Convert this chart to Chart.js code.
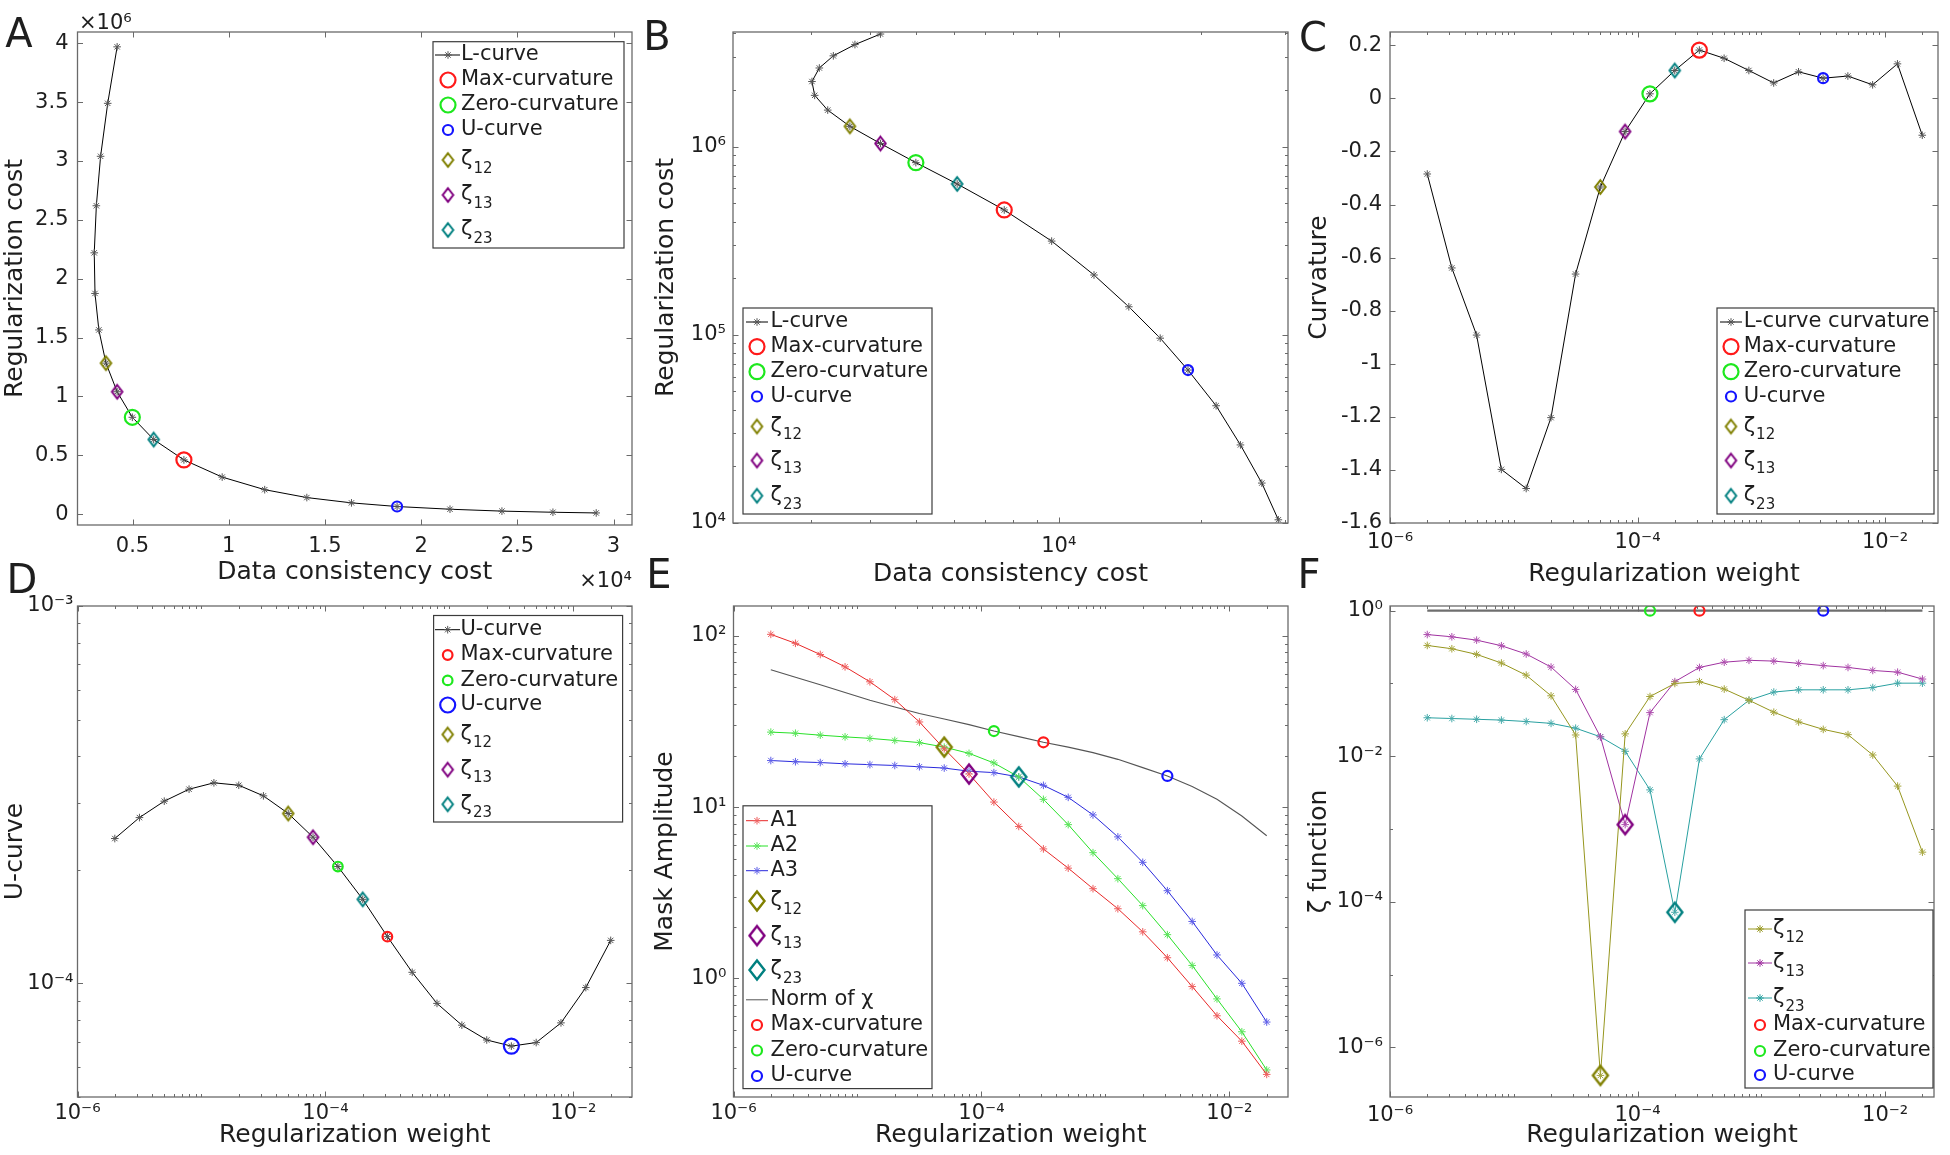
<!DOCTYPE html>
<html><head><meta charset="utf-8">
<script src="https://cdn.jsdelivr.net/npm/chart.js@4/dist/chart.umd.min.js"></script>
<style>
body{margin:0;background:#fff;width:1950px;height:1155px;position:relative;overflow:hidden}
canvas{position:absolute}
</style></head><body>
<script>
// ---------------- DATA ----------------
const regWeight = [2.0e-6, 3.16e-6, 5.01e-6, 7.94e-6, 1.26e-5, 2.0e-5, 3.16e-5, 5.01e-5, 7.94e-5, 1.26e-4, 2.0e-4, 3.16e-4, 5.01e-4, 7.94e-4, 1.26e-3, 2.0e-3, 3.16e-3, 5.01e-3, 7.94e-3, 1.26e-2, 2.0e-2];
const dataConsistencyCost = [4200, 3710, 3340, 3120, 3010, 3050, 3250, 3620, 4200, 4990, 6100, 7670, 9660, 11870, 14060, 16380, 18750, 21500, 24200, 26850, 29100];
const regularizationCost = [3.97e6, 3.49e6, 3.04e6, 2.62e6, 2.22e6, 1.875e6, 1.565e6, 1.283e6, 1.04e6, 8.23e5, 6.34e5, 4.61e5, 3.15e5, 2.08e5, 1.41e5, 9.6e4, 6.5e4, 4.2e4, 2.6e4, 1.63e4, 1.04e4];
const curvature = [-0.285, -0.639, -0.892, -1.398, -1.470, -1.203, -0.662, -0.334, -0.125, 0.017, 0.105, 0.182, 0.151, 0.105, 0.058, 0.100, 0.076, 0.084, 0.051, 0.130, -0.139];
const uCurve = [2.42e-4, 2.75e-4, 3.04e-4, 3.27e-4, 3.40e-4, 3.35e-4, 3.14e-4, 2.82e-4, 2.44e-4, 2.04e-4, 1.67e-4, 1.33e-4, 1.07e-4, 8.85e-5, 7.75e-5, 7.08e-5, 6.82e-5, 6.97e-5, 7.86e-5, 9.75e-5, 1.30e-4];
const maskA1 = [102, 90.4, 77.8, 65.9, 53.9, 42.4, 31.4, 21.9, 15.6, 10.7, 7.71, 5.70, 4.40, 3.34, 2.55, 1.87, 1.32, 0.896, 0.605, 0.430, 0.275];
const maskA2 = [27.4, 27.0, 26.3, 25.7, 25.2, 24.5, 23.8, 22.4, 20.6, 18.1, 15.0, 11.1, 7.90, 5.42, 3.82, 2.66, 1.80, 1.19, 0.759, 0.488, 0.292];
const maskA3 = [18.7, 18.4, 18.2, 17.9, 17.7, 17.5, 17.2, 16.9, 16.2, 15.9, 15.0, 13.4, 11.4, 9.0, 6.70, 4.76, 3.25, 2.15, 1.37, 0.936, 0.556];
const chiNorm = [63.4, 57.3, 51.8, 46.7, 42.0, 38.4, 35.2, 32.7, 30.3, 27.8, 25.8, 23.9, 22.4, 20.8, 19.0, 17.0, 15.2, 13.2, 11.1, 8.87, 6.80];
const zeta12 = [0.333, 0.300, 0.251, 0.191, 0.130, 0.0677, 0.0196, 4.12e-7, 0.0203, 0.0662, 0.100, 0.106, 0.0838, 0.0588, 0.0403, 0.0296, 0.0234, 0.0198, 0.0104, 0.00389, 4.81e-4];
const zeta13 = [0.470, 0.438, 0.394, 0.330, 0.254, 0.168, 0.0828, 0.0185, 0.00115, 0.0398, 0.106, 0.166, 0.196, 0.208, 0.203, 0.189, 0.176, 0.166, 0.151, 0.143, 0.115];
const zeta23 = [0.0338, 0.0330, 0.0322, 0.0314, 0.0300, 0.0283, 0.0243, 0.0185, 0.0117, 0.00345, 7.18e-5, 0.0092, 0.0318, 0.0588, 0.0762, 0.0818, 0.0818, 0.0818, 0.0879, 0.101, 0.101];
const zetaReference = [1, 1, 1, 1, 1, 1, 1, 1, 1, 1, 1, 1, 1, 1, 1, 1, 1, 1, 1, 1, 1];
// indices of the selected weights
const idxZeta12 = 7, idxZeta13 = 8, idxZeroCurv = 9, idxZeta23 = 10, idxMaxCurv = 11, idxUCurve = 16;

// tick values / labels
const aXTicks = [5000, 10000, 15000, 20000, 25000, 30000];
const aXLabels = ['0.5', '1', '1.5', '2', '2.5', '3'];
const aYTicks = [0, 5e5, 1e6, 1.5e6, 2e6, 2.5e6, 3e6, 3.5e6, 4e6];
const aYLabels = ['0', '0.5', '1', '1.5', '2', '2.5', '3', '3.5', '4'];
const bXTicks = [1e4];
const bXLabels = ['10⁴'];
const bYTicks = [1e4, 1e5, 1e6];
const bYLabels = ['10⁴', '10⁵', '10⁶'];
const cYTicks = [-1.6, -1.4, -1.2, -1, -0.8, -0.6, -0.4, -0.2, 0, 0.2];
const cYLabels = ['-1.6', '-1.4', '-1.2', '-1', '-0.8', '-0.6', '-0.4', '-0.2', '0', '0.2'];
const wTicks = [1e-6, 1e-4, 1e-2];
const wLabels = ['10⁻⁶', '10⁻⁴', '10⁻²'];
const dYTicks = [1e-4, 1e-3];
const dYLabels = ['10⁻⁴', '10⁻³'];
const eYTicks = [1, 10, 100];
const eYLabels = ['10⁰', '10¹', '10²'];
const fYTicks = [1e-6, 1e-4, 1e-2, 1];
const fYLabels = ['10⁻⁶', '10⁻⁴', '10⁻²', '10⁰'];

// ---------------- STYLE ----------------
const FONT = "'DejaVu Sans', sans-serif";
const TXT = '#1e1e1e';
const FRAME = '#6a6a6a';
const RED = '#ff1a1a', GREEN = '#1ee81e', BLUE = '#1414ff';
const OLIVE = '#808000', PURPLE = '#800080', TEAL = '#008080';
const STAR_R = 3.8;

function diamondImg(w, h, color, lw) {
  const c = document.createElement('canvas');
  const W = Math.ceil(w + lw * 2 + 2), H = Math.ceil(h + lw * 2 + 2);
  c.width = W; c.height = H;
  const g = c.getContext('2d');
  g.strokeStyle = color; g.lineWidth = lw;
  g.beginPath();
  g.moveTo(W / 2, H / 2 - h / 2); g.lineTo(W / 2 + w / 2, H / 2);
  g.lineTo(W / 2, H / 2 + h / 2); g.lineTo(W / 2 - w / 2, H / 2);
  g.closePath(); g.stroke();
  return c;
}
const smallDia = { olive: diamondImg(10.5, 13.5, OLIVE, 2), purple: diamondImg(10.5, 13.5, PURPLE, 2), teal: diamondImg(10.5, 13.5, TEAL, 2) };
const bigDia = { olive: diamondImg(15, 19, OLIVE, 2.4), purple: diamondImg(15, 19, PURPLE, 2.4), teal: diamondImg(15, 19, TEAL, 2.4) };

function pts(xs, ys) { return xs.map((x, i) => ({ x: x, y: ys[i] })); }
function one(xs, ys, i) { return [{ x: xs[i], y: ys[i] }]; }

function lineDS(label, data, color, starColor, width) {
  return { label, data, showLine: true, borderColor: color, borderWidth: width || 1, tension: 0,
    pointStyle: 'star', pointRadius: STAR_R, pointBorderColor: starColor || color, pointBorderWidth: 1,
    pointBackgroundColor: 'transparent', order: 10 };
}
function plainLineDS(label, data, color, width) {
  return { label, data, showLine: true, borderColor: color, borderWidth: width, tension: 0, pointRadius: 0, order: 11 };
}
function circleDS(label, data, color, r) {
  return { label, data, showLine: false, pointStyle: 'circle', pointRadius: r, pointBorderWidth: 2.2,
    pointBorderColor: color, pointBackgroundColor: 'transparent', order: 1 };
}
function diaDS(label, data, img) {
  return { label, data, showLine: false, pointStyle: img, pointRadius: 8, order: 1 };
}

function drawStar(ctx, x, y, r, color, lw) {
  ctx.strokeStyle = color; ctx.lineWidth = lw; ctx.beginPath();
  for (let k = 0; k < 4; k++) {
    const a = k * Math.PI / 4;
    ctx.moveTo(x - r * Math.cos(a), y - r * Math.sin(a));
    ctx.lineTo(x + r * Math.cos(a), y + r * Math.sin(a));
  }
  ctx.stroke();
}

function logMinor(min, max, sparse) {
  const out = [];
  for (let d = Math.floor(Math.log10(min)); d <= Math.ceil(Math.log10(max)); d++) {
    for (let m = 1; m < 10; m++) {
      if (sparse && m > 1) continue;
      const v = m * Math.pow(10, d);
      if (v >= min * 0.9999 && v <= max * 1.0001) out.push(v);
    }
  }
  return out;
}

function drawLabel(ctx, text, x, y, size) {
  // "ζ_12" -> ζ with subscript 12
  const parts = text.split('_');
  ctx.font = size + 'px ' + FONT;
  ctx.textAlign = 'left'; ctx.textBaseline = 'middle'; ctx.fillStyle = TXT;
  ctx.fillText(parts[0], x, y);
  if (parts.length > 1) {
    const w = ctx.measureText(parts[0]).width;
    ctx.font = Math.round(size * 0.72) + 'px ' + FONT;
    ctx.fillText(parts[1], x + w + 1, y + 9);
  }
}

function framePlugin(p) {
  return {
    id: 'matlabFrame' + p.name,
    afterDraw(chart) {
      const ctx = chart.ctx, a = chart.chartArea, xs = chart.scales.x, ys = chart.scales.y;
      const ox = p.canvas[0], oy = p.canvas[1];
      ctx.save();
      ctx.strokeStyle = FRAME; ctx.lineWidth = 1;
      const maj = 5.5, mnr = 3;
      function tx(v, len) {
        const px = Math.round(xs.getPixelForValue(v)) + 0.5;
        ctx.beginPath(); ctx.moveTo(px, a.bottom); ctx.lineTo(px, a.bottom - len);
        ctx.moveTo(px, a.top); ctx.lineTo(px, a.top + len); ctx.stroke();
      }
      function ty(v, len) {
        const py = Math.round(ys.getPixelForValue(v)) + 0.5;
        ctx.beginPath(); ctx.moveTo(a.left, py); ctx.lineTo(a.left + len, py);
        ctx.moveTo(a.right, py); ctx.lineTo(a.right - len, py); ctx.stroke();
      }
      if (p.x.type === 'logarithmic') logMinor(p.x.min, p.x.max, p.x.sparse).forEach(v => tx(v, mnr));
      if (p.y.type === 'logarithmic') logMinor(p.y.min, p.y.max, p.y.sparse).forEach(v => ty(v, mnr));
      p.x.ticks.forEach(v => tx(v, maj));
      p.y.ticks.forEach(v => ty(v, maj));
      ctx.lineWidth = 1.3;
      ctx.strokeRect(a.left, a.top, a.right - a.left, a.bottom - a.top);

      // legend
      const L = p.legend;
      if (L) {
        const [bx1, by1, bx2, by2] = L.box;
        ctx.fillStyle = '#fff';
        ctx.fillRect(bx1 - ox, by1 - oy, bx2 - bx1, by2 - by1);
        ctx.strokeStyle = '#3c3c3c'; ctx.lineWidth = 1.2;
        ctx.strokeRect(bx1 - ox, by1 - oy, bx2 - bx1, by2 - by1);
        L.rows.forEach(r => {
          const y = r.y - oy, mx = L.markerX - ox;
          if (r.kind === 'linestar' || r.kind === 'line') {
            ctx.strokeStyle = r.color; ctx.lineWidth = 1;
            ctx.beginPath(); ctx.moveTo(L.lineX[0] - ox, y); ctx.lineTo(L.lineX[1] - ox, y); ctx.stroke();
            if (r.kind === 'linestar') drawStar(ctx, mx, y, STAR_R, r.star || r.color, 1);
          } else if (r.kind === 'circle') {
            ctx.strokeStyle = r.color; ctx.lineWidth = 2.2;
            ctx.beginPath(); ctx.arc(mx, y, r.r, 0, Math.PI * 2); ctx.stroke();
          } else if (r.kind === 'diamond') {
            ctx.drawImage(r.img, mx - r.img.width / 2, y - r.img.height / 2);
          }
          drawLabel(ctx, r.label, L.textX - ox, y, 21);
        });
      }
      // extra texts
      (p.texts || []).forEach(t => {
        ctx.font = t.size + 'px ' + FONT;
        ctx.fillStyle = TXT; ctx.textAlign = t.align; ctx.textBaseline = t.base;
        ctx.fillText(t.text, t.x - ox, t.y - oy);
      });
      ctx.restore();
    }
  };
}

function makePanel(p) {
  const cv = document.createElement('canvas');
  const [cx, cy, cw, ch] = p.canvas;
  const [fl, ft, fr, fb] = p.frame;
  cv.width = cw; cv.height = ch;
  cv.style.left = cx + 'px'; cv.style.top = cy + 'px';
  document.body.appendChild(cv);
  function axis(ax, isX) {
    return {
      type: ax.type, position: isX ? 'bottom' : 'left', min: ax.min, max: ax.max,
      afterBuildTicks: s => { s.ticks = ax.ticks.map(v => ({ value: v })); },
      afterFit: s => { if (isX) s.height = cy + ch - fb; else s.width = fl - cx; },
      ticks: { autoSkip: false, maxRotation: 0, minRotation: 0, padding: ax.pad, color: TXT,
        font: { family: FONT, size: 21 }, callback: (v, i) => ax.labels[i] },
      grid: { display: false, drawTicks: false }, border: { display: false },
      title: { display: true, text: ax.title, color: TXT, font: { family: FONT, size: 25 },
        padding: isX ? { top: 0, bottom: ax.tpad } : { top: ax.tpad, bottom: 0 } }
    };
  }
  new Chart(cv.getContext('2d'), {
    type: 'scatter',
    data: { datasets: p.datasets },
    options: {
      responsive: false, animation: false, events: [], devicePixelRatio: 1,
      layout: { padding: { left: 0, top: ft - cy, right: cx + cw - fr, bottom: 0 } },
      plugins: { legend: { display: false }, tooltip: { enabled: false } },
      scales: { x: axis(p.x, true), y: axis(p.y, false) }
    },
    plugins: [framePlugin(p)]
  });
}

const zetaRowsSmall = (ys) => [
  { label: 'ζ_12', kind: 'diamond', img: smallDia.olive, y: ys[0] },
  { label: 'ζ_13', kind: 'diamond', img: smallDia.purple, y: ys[1] },
  { label: 'ζ_23', kind: 'diamond', img: smallDia.teal, y: ys[2] }
];
const STARGRAY = '#555';

// ---------------- PANEL A ----------------
makePanel({
  name: 'A', canvas: [0, 0, 650, 592], frame: [77.5, 32, 632, 525],
  x: { type: 'linear', min: 2140, max: 30960, ticks: aXTicks, labels: aXLabels, pad: 9.4, title: 'Data consistency cost', tpad: 5 },
  y: { type: 'linear', min: -0.092e6, max: 4.096e6, ticks: aYTicks, labels: aYLabels, pad: 9, title: 'Regularization cost', tpad: 0 },
  datasets: [
    lineDS('L-curve', pts(dataConsistencyCost, regularizationCost), '#000', STARGRAY),
    circleDS('Max-curvature', one(dataConsistencyCost, regularizationCost, idxMaxCurv), RED, 7.5),
    circleDS('Zero-curvature', one(dataConsistencyCost, regularizationCost, idxZeroCurv), GREEN, 7.5),
    circleDS('U-curve', one(dataConsistencyCost, regularizationCost, idxUCurve), BLUE, 5),
    diaDS('ζ12', one(dataConsistencyCost, regularizationCost, idxZeta12), smallDia.olive),
    diaDS('ζ13', one(dataConsistencyCost, regularizationCost, idxZeta13), smallDia.purple),
    diaDS('ζ23', one(dataConsistencyCost, regularizationCost, idxZeta23), smallDia.teal)
  ],
  legend: { box: [433, 41.7, 624, 248], lineX: [435, 460], markerX: 448, textX: 461,
    rows: [
      { label: 'L-curve', kind: 'linestar', color: '#000', star: STARGRAY, y: 55 },
      { label: 'Max-curvature', kind: 'circle', color: RED, r: 7.5, y: 80 },
      { label: 'Zero-curvature', kind: 'circle', color: GREEN, r: 7.5, y: 105 },
      { label: 'U-curve', kind: 'circle', color: BLUE, r: 5, y: 130 }
    ].concat(zetaRowsSmall([160, 195, 230])) },
  texts: [
    { text: 'A', x: 19, y: 47.3, size: 40, align: 'center', base: 'alphabetic' },
    { text: '×10⁶', x: 79, y: 24, size: 21, align: 'left', base: 'middle' },
    { text: '×10⁴', x: 632, y: 581.5, size: 21, align: 'right', base: 'middle' }
  ]
});

// ---------------- PANEL B ----------------
makePanel({
  name: 'B', canvas: [640, 0, 660, 592], frame: [733, 32, 1288, 523],
  x: { type: 'logarithmic', min: 2050, max: 30500, ticks: bXTicks, labels: bXLabels, pad: 11.4, title: 'Data consistency cost', tpad: 3 },
  y: { type: 'logarithmic', min: 1e4, max: 4.07e6, ticks: bYTicks, labels: bYLabels, pad: 7, title: 'Regularization cost', tpad: 11.5 },
  datasets: [
    lineDS('L-curve', pts(dataConsistencyCost, regularizationCost), '#000', STARGRAY),
    circleDS('Max-curvature', one(dataConsistencyCost, regularizationCost, idxMaxCurv), RED, 7.5),
    circleDS('Zero-curvature', one(dataConsistencyCost, regularizationCost, idxZeroCurv), GREEN, 7.5),
    circleDS('U-curve', one(dataConsistencyCost, regularizationCost, idxUCurve), BLUE, 5),
    diaDS('ζ12', one(dataConsistencyCost, regularizationCost, idxZeta12), smallDia.olive),
    diaDS('ζ13', one(dataConsistencyCost, regularizationCost, idxZeta13), smallDia.purple),
    diaDS('ζ23', one(dataConsistencyCost, regularizationCost, idxZeta23), smallDia.teal)
  ],
  legend: { box: [743, 308, 932, 514], lineX: [746, 768], markerX: 757, textX: 770.5,
    rows: [
      { label: 'L-curve', kind: 'linestar', color: '#000', star: STARGRAY, y: 322 },
      { label: 'Max-curvature', kind: 'circle', color: RED, r: 7.5, y: 346.6 },
      { label: 'Zero-curvature', kind: 'circle', color: GREEN, r: 7.5, y: 371.7 },
      { label: 'U-curve', kind: 'circle', color: BLUE, r: 5, y: 396.5 }
    ].concat(zetaRowsSmall([426.5, 460.5, 495.7])) },
  texts: [{ text: 'B', x: 657, y: 50, size: 40, align: 'center', base: 'alphabetic' }]
});

// ---------------- PANEL C ----------------
makePanel({
  name: 'C', canvas: [1290, 0, 660, 592], frame: [1390, 32, 1938, 523],
  x: { type: 'logarithmic', min: 1e-6, max: 0.0268, ticks: wTicks, labels: wLabels, pad: 7.4, title: 'Regularization weight', tpad: 3 },
  y: { type: 'linear', min: -1.6, max: 0.25, ticks: cYTicks, labels: cYLabels, pad: 8, title: 'Curvature', tpad: 14.5 },
  datasets: [
    lineDS('L-curve curvature', pts(regWeight, curvature), '#000', STARGRAY),
    circleDS('Max-curvature', one(regWeight, curvature, idxMaxCurv), RED, 7.5),
    circleDS('Zero-curvature', one(regWeight, curvature, idxZeroCurv), GREEN, 7.5),
    circleDS('U-curve', one(regWeight, curvature, idxUCurve), BLUE, 5),
    diaDS('ζ12', one(regWeight, curvature, idxZeta12), smallDia.olive),
    diaDS('ζ13', one(regWeight, curvature, idxZeta13), smallDia.purple),
    diaDS('ζ23', one(regWeight, curvature, idxZeta23), smallDia.teal)
  ],
  legend: { box: [1717, 308, 1934, 514], lineX: [1720, 1742], markerX: 1731, textX: 1743.7,
    rows: [
      { label: 'L-curve curvature', kind: 'linestar', color: '#000', star: STARGRAY, y: 322 },
      { label: 'Max-curvature', kind: 'circle', color: RED, r: 7.5, y: 346.6 },
      { label: 'Zero-curvature', kind: 'circle', color: GREEN, r: 7.5, y: 371.7 },
      { label: 'U-curve', kind: 'circle', color: BLUE, r: 5, y: 396.5 }
    ].concat(zetaRowsSmall([426.5, 460.5, 495.7])) },
  texts: [{ text: 'C', x: 1313, y: 51, size: 40, align: 'center', base: 'alphabetic' }]
});

// ---------------- PANEL D ----------------
makePanel({
  name: 'D', canvas: [0, 550, 650, 605], frame: [77.5, 606, 632, 1097],
  x: { type: 'logarithmic', min: 1e-6, max: 0.0297, ticks: wTicks, labels: wLabels, pad: 4.4, title: 'Regularization weight', tpad: 5 },
  y: { type: 'logarithmic', min: 5e-5, max: 1e-3, ticks: dYTicks, labels: dYLabels, pad: 4, title: 'U-curve', tpad: 0 },
  datasets: [
    lineDS('U-curve', pts(regWeight, uCurve), '#000', STARGRAY),
    circleDS('Max-curvature', one(regWeight, uCurve, idxMaxCurv), RED, 4.8),
    circleDS('Zero-curvature', one(regWeight, uCurve, idxZeroCurv), GREEN, 4.8),
    circleDS('U-curve min', one(regWeight, uCurve, idxUCurve), BLUE, 7.5),
    diaDS('ζ12', one(regWeight, uCurve, idxZeta12), smallDia.olive),
    diaDS('ζ13', one(regWeight, uCurve, idxZeta13), smallDia.purple),
    diaDS('ζ23', one(regWeight, uCurve, idxZeta23), smallDia.teal)
  ],
  legend: { box: [433.6, 615.5, 622.6, 822], lineX: [435, 460], markerX: 447.7, textX: 460.5,
    rows: [
      { label: 'U-curve', kind: 'linestar', color: '#000', star: STARGRAY, y: 629.7 },
      { label: 'Max-curvature', kind: 'circle', color: RED, r: 4.8, y: 655 },
      { label: 'Zero-curvature', kind: 'circle', color: GREEN, r: 4.8, y: 680.4 },
      { label: 'U-curve', kind: 'circle', color: BLUE, r: 7.5, y: 705 }
    ].concat(zetaRowsSmall([734.5, 769.6, 804.3])) },
  texts: [{ text: 'D', x: 22, y: 593, size: 40, align: 'center', base: 'alphabetic' }]
});

// ---------------- PANEL E ----------------
makePanel({
  name: 'E', canvas: [640, 550, 660, 605], frame: [733.5, 606, 1288, 1097],
  x: { type: 'logarithmic', min: 1e-6, max: 0.0297, ticks: wTicks, labels: wLabels, pad: 4.4, title: 'Regularization weight', tpad: 5 },
  y: { type: 'logarithmic', min: 0.203, max: 149.3, ticks: eYTicks, labels: eYLabels, pad: 7, title: 'Mask Amplitude', tpad: 10 },
  datasets: [
    plainLineDS('Norm of χ', pts(regWeight, chiNorm), '#555', 1.1),
    lineDS('A1', pts(regWeight, maskA1), 'rgb(232,40,40)', 'rgb(238,95,95)'),
    lineDS('A2', pts(regWeight, maskA2), 'rgb(40,225,40)', 'rgb(90,228,90)'),
    lineDS('A3', pts(regWeight, maskA3), 'rgb(40,40,220)', 'rgb(95,95,232)'),
    diaDS('ζ12', one(regWeight, maskA2, idxZeta12), bigDia.olive),
    diaDS('ζ13', one(regWeight, maskA1, idxZeta13), bigDia.purple),
    diaDS('ζ23', one(regWeight, maskA3, idxZeta23), bigDia.teal),
    circleDS('Max-curvature', one(regWeight, chiNorm, idxMaxCurv), RED, 5),
    circleDS('Zero-curvature', one(regWeight, chiNorm, idxZeroCurv), GREEN, 5),
    circleDS('U-curve', one(regWeight, chiNorm, idxUCurve), BLUE, 5)
  ],
  legend: { box: [743, 805.8, 932, 1088.6], lineX: [746, 768], markerX: 757, textX: 770.5,
    rows: [
      { label: 'A1', kind: 'linestar', color: 'rgb(232,40,40)', star: 'rgb(238,95,95)', y: 820.7 },
      { label: 'A2', kind: 'linestar', color: 'rgb(40,225,40)', star: 'rgb(90,228,90)', y: 846 },
      { label: 'A3', kind: 'linestar', color: 'rgb(40,40,220)', star: 'rgb(95,95,232)', y: 870.7 },
      { label: 'ζ_12', kind: 'diamond', img: bigDia.olive, y: 901 },
      { label: 'ζ_13', kind: 'diamond', img: bigDia.purple, y: 935.6 },
      { label: 'ζ_23', kind: 'diamond', img: bigDia.teal, y: 970 },
      { label: 'Norm of χ', kind: 'line', color: '#555', y: 999.8 },
      { label: 'Max-curvature', kind: 'circle', color: RED, r: 5, y: 1025 },
      { label: 'Zero-curvature', kind: 'circle', color: GREEN, r: 5, y: 1050.5 },
      { label: 'U-curve', kind: 'circle', color: BLUE, r: 5, y: 1076 }
    ] },
  texts: [{ text: 'E', x: 659, y: 588, size: 40, align: 'center', base: 'alphabetic' }]
});

// ---------------- PANEL F ----------------
const Z12C = 'rgb(150,150,30)', Z13C = 'rgb(160,50,160)', Z23C = 'rgb(40,160,160)';
makePanel({
  name: 'F', canvas: [1290, 550, 660, 605], frame: [1390, 606, 1934, 1097],
  x: { type: 'logarithmic', min: 1e-6, max: 0.0248, ticks: wTicks, labels: wLabels, pad: 5.5, title: 'Regularization weight', tpad: 5 },
  y: { type: 'logarithmic', min: 2.08e-7, max: 1.16, ticks: fYTicks, labels: fYLabels, pad: 7, title: 'ζ function', tpad: 14.5, sparse: true },
  datasets: [
    plainLineDS('reference', pts(regWeight, zetaReference), '#6e6e6e', 2.2),
    lineDS('ζ12', pts(regWeight, zeta12), Z12C, 'rgb(165,165,60)'),
    lineDS('ζ13', pts(regWeight, zeta13), Z13C, 'rgb(175,80,175)'),
    lineDS('ζ23', pts(regWeight, zeta23), Z23C, 'rgb(70,170,170)'),
    diaDS('ζ12 min', one(regWeight, zeta12, idxZeta12), bigDia.olive),
    diaDS('ζ13 min', one(regWeight, zeta13, idxZeta13), bigDia.purple),
    diaDS('ζ23 min', one(regWeight, zeta23, idxZeta23), bigDia.teal),
    circleDS('Max-curvature', one(regWeight, zetaReference, idxMaxCurv), RED, 5),
    circleDS('Zero-curvature', one(regWeight, zetaReference, idxZeroCurv), GREEN, 5),
    circleDS('U-curve', one(regWeight, zetaReference, idxUCurve), BLUE, 5)
  ],
  legend: { box: [1745, 910, 1933, 1088], lineX: [1748, 1772], markerX: 1760, textX: 1773,
    rows: [
      { label: 'ζ_12', kind: 'linestar', color: Z12C, y: 929 },
      { label: 'ζ_13', kind: 'linestar', color: Z13C, y: 963 },
      { label: 'ζ_23', kind: 'linestar', color: Z23C, y: 998 },
      { label: 'Max-curvature', kind: 'circle', color: RED, r: 5, y: 1025 },
      { label: 'Zero-curvature', kind: 'circle', color: GREEN, r: 5, y: 1051 },
      { label: 'U-curve', kind: 'circle', color: BLUE, r: 5, y: 1075 }
    ] },
  texts: [{ text: 'F', x: 1309, y: 588, size: 40, align: 'center', base: 'alphabetic' }]
});
</script>
</body></html>
